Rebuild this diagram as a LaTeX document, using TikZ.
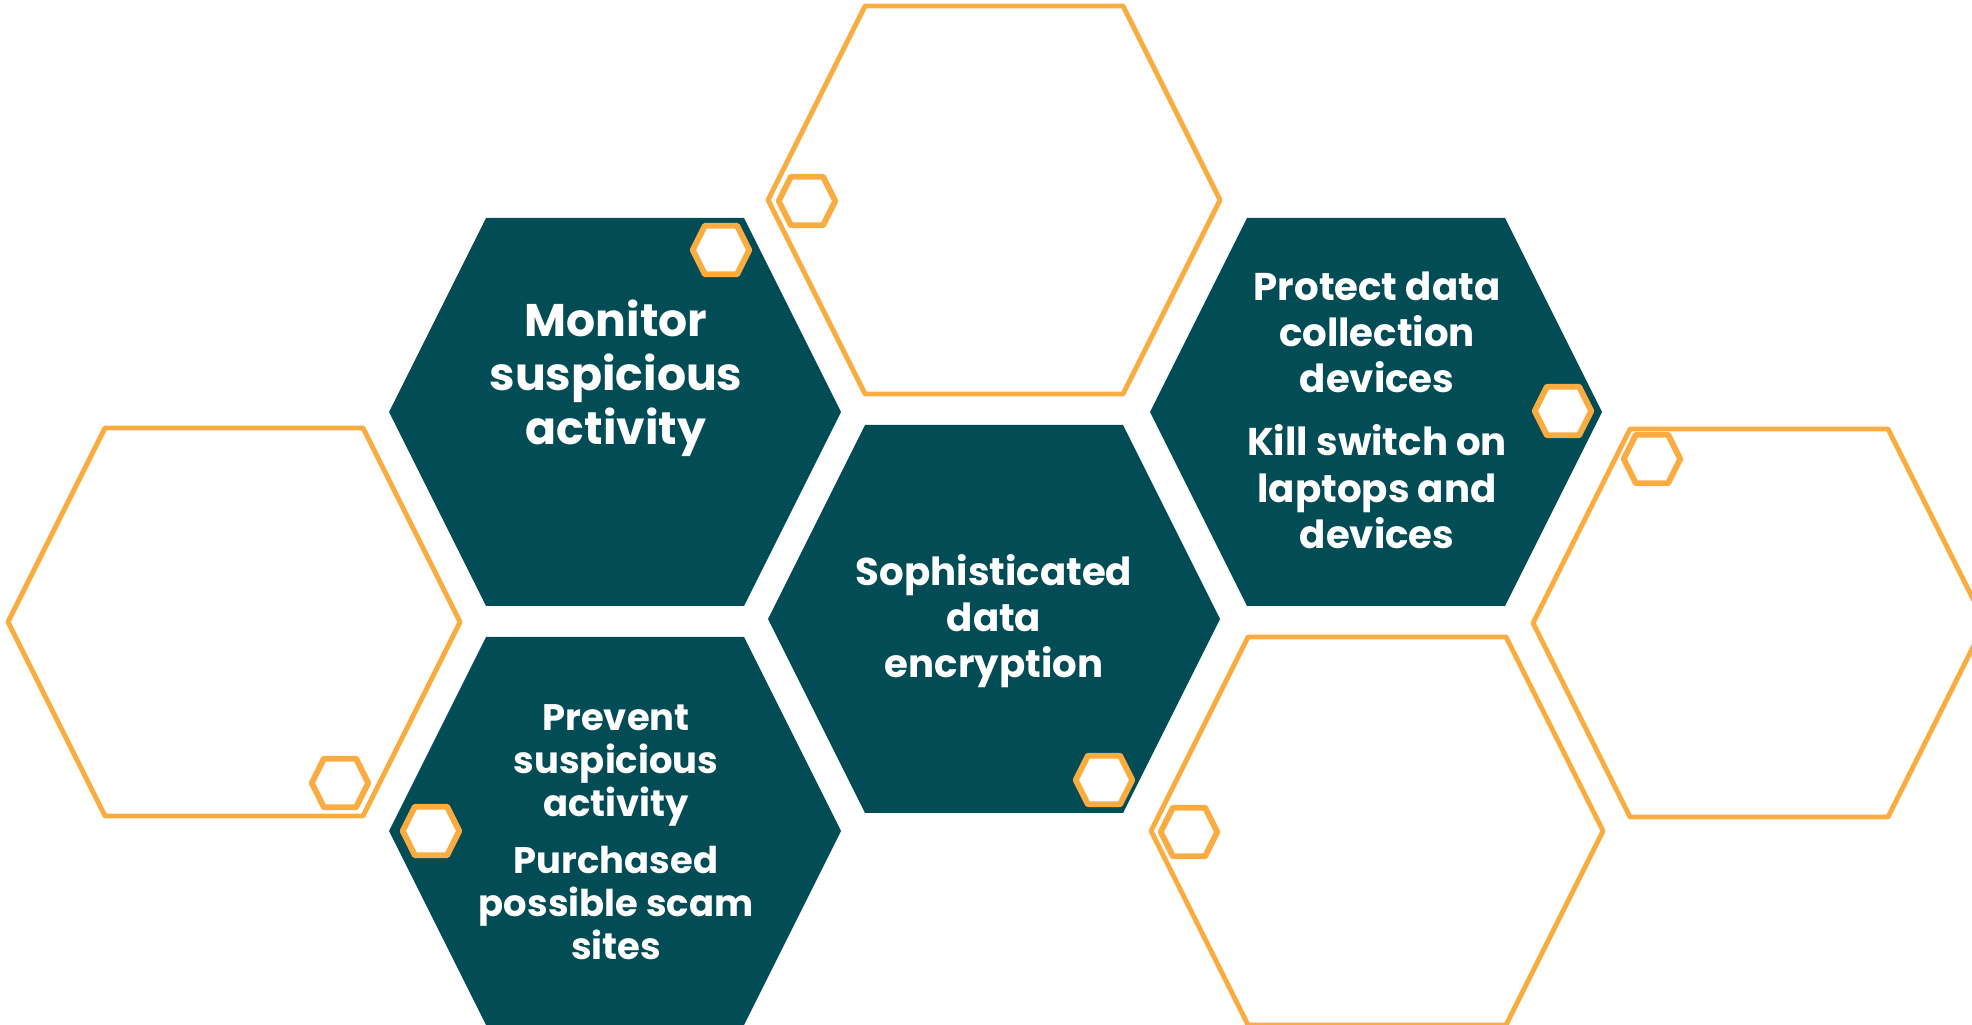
\documentclass[tikz,border=0pt]{standalone}
\usepackage{fontspec}
\setmainfont{Poppins}
\definecolor{hexteal}{HTML}{024C55}
\definecolor{hexorange}{HTML}{FBAC41}
\tikzset{
  pics/hexa/.style={code={
    \path[pic actions] (-226,0) -- (-129,-194) -- (129,-194) -- (226,0)
      -- (129,194) -- (-129,194) -- cycle;
  }}
}
\begin{document}
\begin{tikzpicture}[x=0.01cm, y=-0.01cm,
    tealhex/.style={fill=hexteal},
    openhex/.style={draw=hexorange, line width=1.4pt, line join=round},
    smallhex/.style={draw=hexorange, fill=white, line width=1.7pt, line join=round, scale=0.125},
    hextext/.style={text=white, font=\bfseries\fontsize{11}{13.1}\selectfont, align=center, inner sep=0pt}]
    \useasboundingbox (0,0) rectangle (1972,1025);

    % filled hexagons
    \pic[tealhex] at (615,412) {hexa};
    \pic[tealhex] at (994,619) {hexa};
    \pic[tealhex] at (1376,412) {hexa};
    \pic[tealhex] at (615,831) {hexa};

    % outlined hexagons
    \pic[openhex] at (234,622) {hexa};
    \pic[openhex] at (994,200) {hexa};
    \pic[openhex] at (1377,831) {hexa};
    \pic[openhex] at (1759,623) {hexa};

    % small hexagons
    \pic[smallhex] at (721,250) {hexa};
    \pic[smallhex] at (807,201) {hexa};
    \pic[smallhex] at (1563,411) {hexa};
    \pic[smallhex] at (431,831) {hexa};
    \pic[smallhex] at (1104,780) {hexa};
    \pic[smallhex] at (340,783) {hexa};
    \pic[smallhex] at (1189,832) {hexa};
    \pic[smallhex] at (1652,459) {hexa};

    % texts
    \node[hextext, font=\bfseries\fontsize{13}{15.4}\selectfont] (monitor) at (616,378) {Monitor\\suspicious\\activity};
    \node[hextext] (encrypt) at (994,621) {Sophisticated\\data\\encryption};
    \node[hextext] (protect) at (1377,410) {Protect data\\collection\\devices\\[5pt]Kill switch on\\laptops and\\devices};
    \node[hextext, font=\bfseries\fontsize{10.5}{12.2}\selectfont] (prevent) at (616,832) {Prevent\\suspicious\\activity\\[4pt]Purchased\\possible scam\\sites};
\end{tikzpicture}
\end{document}
